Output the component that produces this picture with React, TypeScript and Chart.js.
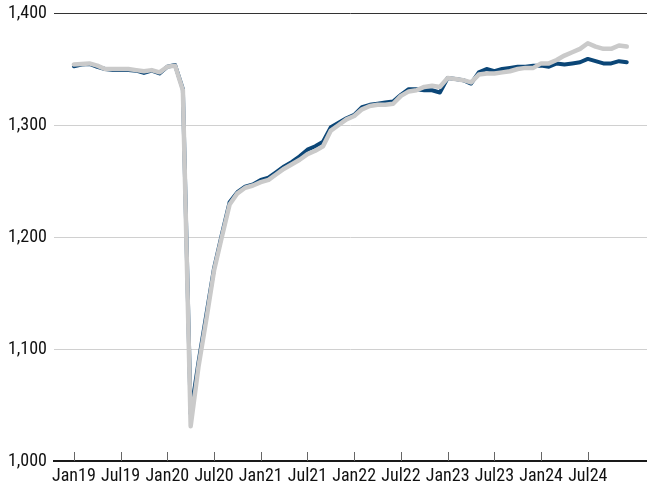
import React, { useEffect, useRef } from "react";
import { Chart, registerables } from "chart.js";

Chart.register(...registerables);

const months: string[] = [
  "Jan19","Feb19","Mar19","Apr19","May19","Jun19","Jul19","Aug19","Sep19","Oct19","Nov19","Dec19",
  "Jan20","Feb20","Mar20","Apr20","May20","Jun20","Jul20","Aug20","Sep20","Oct20","Nov20","Dec20",
  "Jan21","Feb21","Mar21","Apr21","May21","Jun21","Jul21","Aug21","Sep21","Oct21","Nov21","Dec21",
  "Jan22","Feb22","Mar22","Apr22","May22","Jun22","Jul22","Aug22","Sep22","Oct22","Nov22","Dec22",
  "Jan23","Feb23","Mar23","Apr23","May23","Jun23","Jul23","Aug23","Sep23","Oct23","Nov23","Dec23",
  "Jan24","Feb24","Mar24","Apr24","May24","Jun24","Jul24","Aug24","Sep24","Oct24","Nov24","Dec24",
];

const blueSeries: number[] = [
  1352.5, 1354, 1354.5, 1352, 1350, 1349, 1349, 1349, 1348.5, 1346.5, 1348.5, 1346,
  1352, 1353.5, 1332, 1042, 1088, 1130, 1172, 1202, 1231, 1240, 1245, 1247,
  1251, 1253, 1258, 1263, 1267, 1272, 1278, 1281, 1285, 1298, 1302, 1306,
  1309, 1316, 1318, 1319, 1320, 1321, 1327, 1332, 1332, 1331, 1331, 1329,
  1342, 1341, 1340, 1337, 1347, 1350, 1348, 1350, 1351, 1352, 1352, 1353,
  1353, 1352, 1355, 1354, 1355, 1356, 1359, 1357, 1355, 1355, 1357, 1356,
];

const graySeries: number[] = [
  1354, 1354.5, 1355, 1353, 1350, 1350, 1350, 1350, 1349, 1348, 1349, 1347,
  1352, 1353, 1331, 1031, 1084, 1126, 1170, 1200, 1229, 1239, 1244, 1246,
  1249, 1251, 1256, 1261, 1265, 1269, 1274, 1277, 1281, 1295, 1300, 1305,
  1308, 1314, 1317, 1318, 1318, 1319, 1326, 1330, 1331, 1334, 1335, 1334,
  1342, 1341, 1340, 1338, 1345, 1346, 1346, 1347, 1348, 1350, 1351, 1351,
  1355, 1355, 1358, 1362, 1365, 1368, 1373, 1370, 1368, 1368, 1371, 1370,
];

const xTickLabels: string[] = ["Jan19","Jul19","Jan20","Jul20","Jan21","Jul21","Jan22","Jul22","Jan23","Jul23","Jan24","Jul24"];
const yTicks: number[] = [1000, 1100, 1200, 1300, 1400];

function pickFont(): { family: string; size: number } {
  try {
    const c = document.createElement("canvas").getContext("2d")!;
    c.font = "18px monospace";
    const w0 = c.measureText("Jan19 1,400").width;
    c.font = "18px 'Roboto Condensed', monospace";
    const w1 = c.measureText("Jan19 1,400").width;
    if (Math.abs(w0 - w1) > 0.5) return { family: "'Roboto Condensed'", size: 18 };
  } catch (e) {}
  return { family: "Roboto", size: 16 };
}

export default function App() {
  const ref = useRef<HTMLCanvasElement>(null);
  useEffect(() => {
    if (!ref.current) return;
    const font = pickFont();
    const tickIdx = xTickLabels.map((l) => months.indexOf(l));
    const toPts = (arr: number[]) => arr.map((v, i) => ({ x: i, y: v }));

    const tickMarks = {
      id: "tickMarks",
      afterDatasetsDraw(chart: any) {
        const { ctx, scales, chartArea } = chart;
        const xs = scales.x;
        ctx.save();
        ctx.strokeStyle = "#666";
        ctx.lineWidth = 1;
        ctx.beginPath();
        tickIdx.forEach((i) => {
          const px = Math.round(xs.getPixelForValue(i)) + 0.5;
          ctx.moveTo(px, chartArea.bottom);
          ctx.lineTo(px, chartArea.bottom - 9);
        });
        ctx.stroke();
        ctx.restore();
      },
    };

    const chart = new Chart(ref.current, {
      type: "line",
      data: {
        datasets: [
          {
            label: "B",
            data: toPts(graySeries),
            borderColor: "#cacaca",
            borderWidth: 4.5,
            pointRadius: 0,
            tension: 0,
            borderJoinStyle: "round",
            borderCapStyle: "round",
          },
          {
            label: "A",
            data: toPts(blueSeries),
            borderColor: "#0b4677",
            borderWidth: 4,
            pointRadius: 0,
            tension: 0,
            borderJoinStyle: "round",
            borderCapStyle: "round",
          },
        ],
      },
      options: {
        animation: false,
        responsive: false,
        layout: { padding: { top: 13, right: 0, left: 0, bottom: 0 } },
        plugins: { legend: { display: false }, tooltip: { enabled: false } },
        scales: {
          x: {
            type: "linear",
            min: -2.55,
            max: 73.6,
            afterBuildTicks: (scale: any) => {
              scale.ticks = tickIdx.map((v) => ({ value: v }));
            },
            afterFit: (scale: any) => {
              scale.height = 32;
              scale.paddingLeft = 0;
              scale.paddingRight = 0;
            },
            ticks: {
              autoSkip: false,
              maxRotation: 0,
              padding: 5,
              color: "#111",
              font: { family: font.family, size: font.size },
              callback: (v: any) => {
                const i = Math.round(Number(v));
                return months[i] ?? "";
              },
            },
            grid: { display: false, drawTicks: false },
            border: { display: true, color: "#1a1a1a", width: 2 },
          },
          y: {
            min: 1000,
            max: 1400,
            afterBuildTicks: (scale: any) => {
              scale.ticks = yTicks.map((v) => ({ value: v }));
            },
            afterFit: (scale: any) => {
              scale.width = 54;
              scale.paddingTop = 0;
              scale.paddingBottom = 0;
            },
            ticks: {
              padding: 7,
              color: "#111",
              font: { family: font.family, size: font.size },
              callback: (v: any) => Number(v).toLocaleString("en-US"),
            },
            grid: {
              drawTicks: false,
              color: (ctx: any) =>
                ctx.tick && ctx.tick.value === 1400
                  ? "#333"
                  : ctx.tick && ctx.tick.value === 1000
                  ? "rgba(0,0,0,0)"
                  : "#d0d0d0",
              lineWidth: 1,
            },
            border: { display: false },
          },
        },
      },
      plugins: [tickMarks],
    } as any);
    return () => chart.destroy();
  }, []);

  return (
    <div style={{ position: "fixed", left: 0, top: 0, width: 647, height: 493, background: "#fff" }}>
      <canvas ref={ref} width={647} height={493} style={{ display: "block" }} />
    </div>
  );
}
